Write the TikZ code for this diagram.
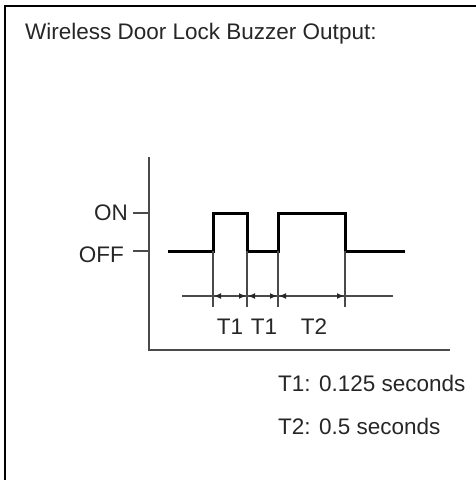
\documentclass[tikz,border=0pt]{standalone}
\usepackage{fontspec}
\setmainfont{Liberation Sans}
\usetikzlibrary{arrows.meta}
\definecolor{thin}{HTML}{4A4A4A}
\begin{document}
\begin{tikzpicture}[x=1pt,y=-1pt,
  txt/.style={inner sep=0pt,font=\fontsize{22.5}{26}\selectfont,text=black!85},
  thinline/.style={draw=thin,line width=1.1pt},
  sig/.style={draw=black,line width=3pt,line join=miter},
  dim/.style={draw=thin,line width=1.1pt,{Latex[length=7pt,width=6pt,color=black!85]}-{Latex[length=7pt,width=6pt,color=black!85]}}]
\useasboundingbox (0,0) rectangle (476,480);
% frame
\draw[line width=2.5pt] (5,480) -- (5,6) -- (476,6);
% title
\node[txt,anchor=base west] (title) at (25,39) {Wireless Door Lock Buzzer Output:};
% axes
\coordinate (ytop) at (149,157);
\coordinate (orig) at (149,350);
\coordinate (xend) at (450,350);
\draw[thinline] (ytop) -- (orig) -- (xend);
% ticks
\coordinate (onT) at (149,213);
\coordinate (onL) at (133,213);
\coordinate (offT) at (149,251);
\coordinate (offL) at (133,251);
\draw[thinline] (onL) -- (onT);
\draw[thinline] (offL) -- (offT);
\node[txt,anchor=east] (on) at (128,213) {ON};
\node[txt,anchor=east] (off) at (124,255) {OFF};
% signal
\coordinate (s0) at (168,251);
\coordinate (a) at (213,251);
\coordinate (b) at (247,251);
\coordinate (c) at (278,251);
\coordinate (d) at (345,251);
\coordinate (s1) at (405,251);
\draw[sig] (s0) -- (a) -- (213,213) -- (247,213) -- (b) -- (c) -- (278,213) -- (345,213) -- (d) -- (s1);
% extension lines
\coordinate (a2) at (213,307);
\coordinate (b2) at (247,307);
\coordinate (c2) at (278,307);
\coordinate (d2) at (345,307);
\draw[thinline] (a) -- (a2);
\draw[thinline] (b) -- (b2);
\draw[thinline] (c) -- (c2);
\draw[thinline] (d) -- (d2);
% dimension line
\coordinate (dl) at (182,296);
\coordinate (dr) at (393,296);
\coordinate (da) at (214,296);
\coordinate (db) at (246,296);
\coordinate (db2) at (248,296);
\coordinate (dc) at (277,296);
\coordinate (dc2) at (279,296);
\coordinate (dd) at (344,296);
\draw[thinline] (dl) -- (dr);
\draw[dim] (da) -- (db);
\draw[dim] (db2) -- (dc);
\draw[dim] (dc2) -- (dd);
% labels
\node[txt,anchor=base] (t1a) at (230,334) {T1};
\node[txt,anchor=base] (t1b) at (264,334) {T1};
\node[txt,anchor=base] (t2) at (314,334) {T2};
% legend
\node[txt,anchor=base west] (l1) at (278,391) {T1: 0.125 seconds};
\node[txt,anchor=base west] (l2) at (278,434) {T2: 0.5 seconds};
\end{tikzpicture}
\end{document}
